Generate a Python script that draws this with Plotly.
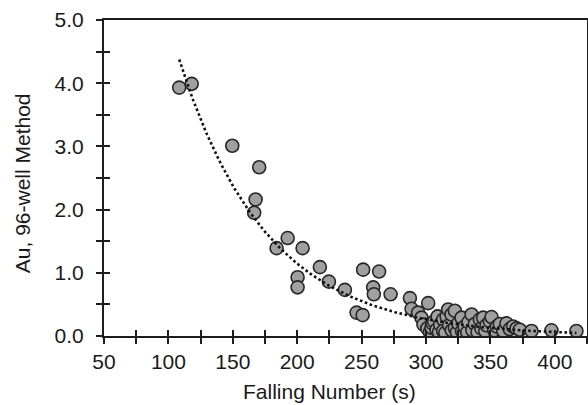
import numpy as np
import plotly.graph_objects as go

# Falling Number (s) and Au (96-well method)
falling_number = [
    108.4, 118.1, 149.6, 170.5, 167.7, 166.6, 184.0, 192.6, 204.2, 200.3,
    200.3, 217.6, 224.6, 237.0, 251.2, 263.6, 259.0, 259.5, 272.5, 246.1,
    250.8, 287.5, 288.8, 293.9, 296.5, 301.7, 298.0,
    301.0, 303.0, 304.3, 305.0, 306.3, 308.2, 309.0, 310.0, 311.0, 313.3,
    313.3, 315.0, 316.0, 317.2, 318.0, 319.8, 320.0, 322.4, 322.4, 324.0,
    325.0, 327.6, 328.0, 330.0, 332.0, 333.0, 335.4, 336.0, 337.9, 340.0,
    341.8, 343.0, 344.4, 346.0, 347.0, 349.6, 350.9, 353.0, 355.0, 357.3,
    360.0, 362.5, 365.0, 367.6, 370.3, 372.8, 381.9, 397.4, 416.8,
]
au_96well = [
    3.93, 3.99, 3.01, 2.67, 2.16, 1.95, 1.39, 1.55, 1.39, 0.93,
    0.77, 1.09, 0.86, 0.73, 1.05, 1.02, 0.77, 0.66, 0.66, 0.37,
    0.33, 0.60, 0.43, 0.37, 0.29, 0.52, 0.18,
    0.12, 0.06, 0.13, 0.20, 0.23, 0.10, 0.31, 0.06, 0.18, 0.26,
    0.08, 0.05, 0.31, 0.42, 0.17, 0.34, 0.09, 0.40, 0.13, 0.06,
    0.20, 0.29, 0.08, 0.15, 0.06, 0.22, 0.34, 0.09, 0.19, 0.06,
    0.26, 0.12, 0.29, 0.08, 0.17, 0.23, 0.30, 0.09, 0.15, 0.19,
    0.08, 0.20, 0.11, 0.15, 0.12, 0.10, 0.08, 0.09, 0.08,
]

x_title = "Falling Number (s)"
y_title = "Au, 96-well Method"
x_ticks_major = 50
x_range = [50, 425]
y_range = [0, 5]

# Exponential trendline (least squares on ln y, as a spreadsheet does)
fx = np.array(falling_number)
fy = np.array(au_96well)
k, ln_a = np.polyfit(fx, np.log(fy), 1)
trend_x = np.linspace(fx.min(), fx.max(), 200)
trend_y = np.exp(ln_a) * np.exp(k * trend_x)

font = "Liberation Sans, Arial, sans-serif"
axis_col = "#1e1e1e"
fs = 21

fig = go.Figure()
fig.add_trace(go.Scatter(
    x=falling_number, y=au_96well, mode="markers",
    marker=dict(size=13, color="#a0a0a0", line=dict(color="#262626", width=1.6)),
    showlegend=False, hoverinfo="x+y",
))
fig.add_trace(go.Scatter(
    x=trend_x, y=trend_y, mode="lines",
    line=dict(color="#111111", width=2.6, dash="2.6px,2.6px"),
    showlegend=False, hoverinfo="skip",
))
# invisible trace on overlay axes (used for the inner half of crossing ticks)
fig.add_trace(go.Scatter(x=[None], y=[None], xaxis="x2", yaxis="y2",
                         showlegend=False, hoverinfo="skip"))

fig.update_layout(
    width=588, height=405,
    margin=dict(l=104, r=1, t=20, b=68.5, autoexpand=False),
    paper_bgcolor="white", plot_bgcolor="white",
    font=dict(family=font, size=fs, color="#1a1a1a"),
    xaxis=dict(
        range=x_range, dtick=x_ticks_major, tick0=50,
        showgrid=False, zeroline=False,
        showline=True, linecolor=axis_col, linewidth=2, mirror=True,
        ticks="outside", ticklen=6, tickwidth=1.6, tickcolor=axis_col,
        minor=dict(dtick=25, ticks="outside", ticklen=6, tickwidth=1.6,
                   tickcolor=axis_col, showgrid=False),
        tickfont=dict(size=fs), ticklabelstandoff=0,
    ),
    yaxis=dict(
        range=y_range, dtick=1, tickformat=".1f",
        showgrid=False, zeroline=False,
        showline=True, linecolor=axis_col, linewidth=2, mirror=True,
        ticks="outside", ticklen=6, tickwidth=1.6, tickcolor=axis_col,
        minor=dict(dtick=0.5, ticks="outside", ticklen=6, tickwidth=1.6,
                   tickcolor=axis_col, showgrid=False),
        tickfont=dict(size=fs), ticklabelstandoff=8,
    ),
    xaxis2=dict(
        overlaying="x", anchor="y2", side="bottom", range=x_range,
        dtick=25, tick0=50, showticklabels=False, showgrid=False, zeroline=False,
        ticks="inside", ticklen=6, tickwidth=1.6, tickcolor=axis_col,
        showline=False,
    ),
    yaxis2=dict(
        overlaying="y", anchor="x2", side="left", range=y_range,
        dtick=0.5, showticklabels=False, showgrid=False, zeroline=False,
        ticks="inside", ticklen=6, tickwidth=1.6, tickcolor=axis_col,
        showline=False,
    ),
    annotations=[
        dict(text=x_title, xref="paper", yref="paper", x=0.466, y=-0.175,
             xanchor="center", yanchor="middle", showarrow=False,
             font=dict(size=fs)),
        dict(text=y_title, xref="paper", yref="paper", x=-0.168, y=0.483,
             xanchor="center", yanchor="middle", showarrow=False, textangle=-90,
             font=dict(size=fs)),
    ],
)

fig.write_html("out.html", config={"displayModeBar": False},
               post_script="document.body.style.margin='0';document.body.style.padding='0';")
